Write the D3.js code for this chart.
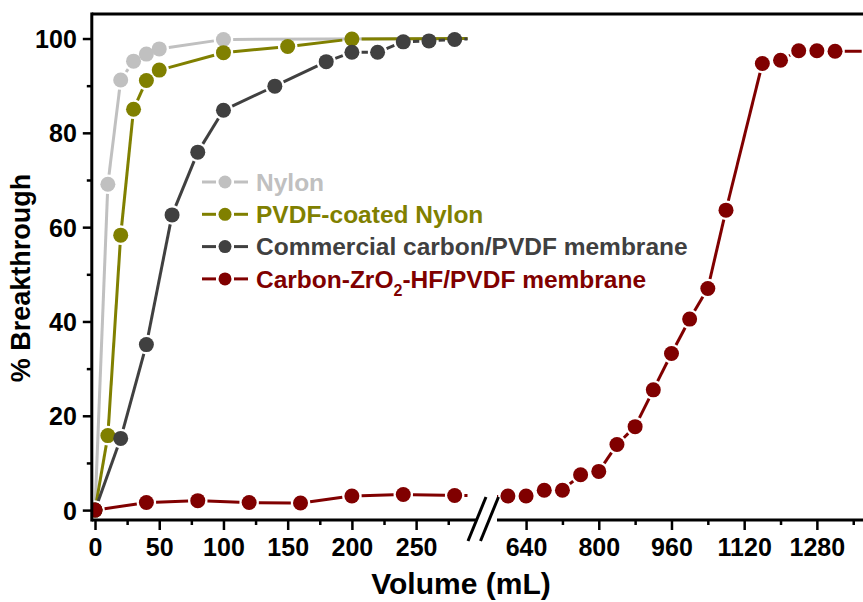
<!DOCTYPE html>
<html>
<head>
<meta charset="utf-8">
<script src="https://cdn.jsdelivr.net/npm/d3@7"></script>
<style>
  body { margin: 0; background: #fff; }
  svg text { font-family: "Liberation Sans", Arial, sans-serif; font-weight: bold; }
</style>
</head>
<body>
<div id="chart"></div>
<script>
// Data (volume in mL, breakthrough in %)
const nylonVol = [0, 10, 20, 30, 40, 50, 100, 300];
const nylonVal = [0, 69.1, 91.2, 95.2, 96.7, 97.8, 99.8, 100];

const pvdfVol = [0, 10, 20, 30, 40, 50, 100, 150, 200, 300];
const pvdfVal = [0, 15.8, 58.3, 85.0, 91.1, 93.3, 97.0, 98.3, 99.9, 100];

const commVol = [0, 20, 40, 60, 80, 100, 140, 180, 200, 220, 240, 260, 280, 300];
const commVal = [0, 15.2, 35.1, 62.6, 75.9, 84.8, 89.9, 95.1, 97.1, 97.1, 99.3, 99.5, 99.8, 100];

const zrVol = [0, 40, 80, 120, 160, 200, 240, 280, 600, 640, 680, 720, 760, 800, 840, 880,
               920, 960, 1000, 1040, 1080, 1160, 1200, 1240, 1280, 1320, 1400];
const zrVal = [0, 1.6, 2.0, 1.6, 1.5, 3.0, 3.3, 3.1, 3.0, 3.0, 4.2, 4.2, 7.5, 8.2, 13.9, 17.7,
               25.5, 33.2, 40.5, 47.0, 63.6, 94.7, 95.4, 97.4, 97.4, 97.3, 97.3];

const seriesNames = ["Nylon", "PVDF-coated Nylon", "Commercial carbon/PVDF membrane", "Carbon-ZrO2-HF/PVDF membrane"];
const seriesColors = ["#c0c0c0", "#808000", "#404040", "#800000"];

const yTicks = [0, 20, 40, 60, 80, 100];
const yMinor = [10, 30, 50, 70, 90];
const xLeftTicks = [0, 50, 100, 150, 200, 250];
const xLeftMinor = [25, 75, 125, 175, 225, 275];
const xRightTicks = [640, 800, 960, 1120, 1280];
const xRightMinor = [720, 880, 1040, 1200, 1360];

const W = 863, H = 602;
const svg = d3.select("#chart").append("svg").attr("width", W).attr("height", H);

// scales: one y, two x pieces for the broken axis
const y = d3.scaleLinear().domain([-2.1, 105.2]).range([520, 14]);
const xL = d3.scaleLinear().domain([-2.5, 290]).range([91.8, 467.5]);
const xR = d3.scaleLinear().domain([576, 1400]).range([497, 871.4]);

const series = [
  { vol: nylonVol, val: nylonVal },
  { vol: pvdfVol, val: pvdfVal },
  { vol: commVol, val: commVal },
  { vol: zrVol, val: zrVal }
].map((s, i) => ({
  name: seriesNames[i],
  color: seriesColors[i],
  pts: s.vol.map((v, j) => ({ x: v, y: s.val[j] }))
}));

const R = 7.5, GAP = R + 2.2;

// clip areas for the two axis pieces
const defs = svg.append("defs");
defs.append("clipPath").attr("id", "clipL").append("rect")
  .attr("x", xL.range()[0]).attr("y", 0).attr("width", xL.range()[1] - xL.range()[0]).attr("height", y.range()[0]);
defs.append("clipPath").attr("id", "clipR").append("rect")
  .attr("x", xR.range()[0]).attr("y", 0).attr("width", W - xR.range()[0]).attr("height", y.range()[0]);

// lines drawn as segments that stop short of the symbols
function drawPanel(x, clipId) {
  const g = svg.append("g").attr("clip-path", `url(#${clipId})`);
  series.forEach(s => {
    const segs = [];
    for (let i = 0; i < s.pts.length - 1; i++) {
      const x1 = x(s.pts[i].x), y1 = y(s.pts[i].y);
      const x2 = x(s.pts[i + 1].x), y2 = y(s.pts[i + 1].y);
      const len = Math.hypot(x2 - x1, y2 - y1);
      if (len <= 2 * GAP) continue;
      const ux = (x2 - x1) / len, uy = (y2 - y1) / len;
      segs.push([x1 + ux * GAP, y1 + uy * GAP, x2 - ux * GAP, y2 - uy * GAP]);
    }
    g.append("g").selectAll("line").data(segs).enter().append("line")
      .attr("x1", d => d[0]).attr("y1", d => d[1])
      .attr("x2", d => d[2]).attr("y2", d => d[3])
      .attr("stroke", s.color).attr("stroke-width", 3);
    g.append("g").selectAll("circle")
      .data(s.pts.filter(p => p.x >= x.domain()[0] && p.x <= x.domain()[1]))
      .enter().append("circle")
      .attr("cx", d => x(d.x)).attr("cy", d => y(d.y))
      .attr("r", R).attr("fill", s.color);
  });
}
drawPanel(xL, "clipL");
drawPanel(xR, "clipR");

// axes
function styleAxis(g) {
  g.selectAll(".domain").remove();
  g.selectAll(".tick line").attr("stroke", "#000").attr("stroke-width", 2.5);
  g.selectAll(".tick text").attr("font-size", 25).attr("fill", "#000");
}
const fmt = d3.format("d");

const yAxis = svg.append("g").attr("transform", `translate(${xL.range()[0]},0)`)
  .call(d3.axisLeft(y).tickValues(yTicks).tickFormat(fmt).tickSize(9).tickPadding(6));
styleAxis(yAxis);
yAxis.selectAll(".tick text").attr("dy", "0.36em");
svg.append("g").attr("transform", `translate(${xL.range()[0]},0)`)
  .call(d3.axisLeft(y).tickValues(yMinor).tickSize(5).tickFormat(""))
  .call(styleAxis);

const xAxisL = svg.append("g").attr("transform", `translate(0,${y.range()[0]})`)
  .call(d3.axisBottom(xL).tickValues(xLeftTicks).tickFormat(fmt).tickSize(10).tickPadding(8));
styleAxis(xAxisL);
svg.append("g").attr("transform", `translate(0,${y.range()[0]})`)
  .call(d3.axisBottom(xL).tickValues(xLeftMinor).tickSize(5).tickFormat(""))
  .call(styleAxis);

const xAxisR = svg.append("g").attr("transform", `translate(0,${y.range()[0]})`)
  .call(d3.axisBottom(xR).tickValues(xRightTicks).tickFormat(fmt).tickSize(10).tickPadding(8));
styleAxis(xAxisR);
svg.append("g").attr("transform", `translate(0,${y.range()[0]})`)
  .call(d3.axisBottom(xR).tickValues(xRightMinor).tickSize(5).tickFormat(""))
  .call(styleAxis);

// frame lines
const yb = y.range()[0], yt = y.range()[1];
const frame = svg.append("g").attr("stroke", "#000").attr("stroke-width", 3).attr("fill", "none");
frame.append("line").attr("x1", xL.range()[0]).attr("x2", xL.range()[0]).attr("y1", yt - 1.5).attr("y2", yb + 1.5);
frame.append("line").attr("x1", xL.range()[0]).attr("x2", W).attr("y1", yt).attr("y2", yt);
frame.append("line").attr("x1", xL.range()[0]).attr("x2", xL.range()[1] + 9).attr("y1", yb).attr("y2", yb);
frame.append("line").attr("x1", xR.range()[0]).attr("x2", W).attr("y1", yb).attr("y2", yb);

// break marks
const bx = xL.range()[1];
[0, 12.5].forEach(off => {
  frame.append("line")
    .attr("x1", bx + off + 0.5).attr("y1", yb + 21)
    .attr("x2", bx + off + 18.5).attr("y2", yb - 23);
});

// axis titles
svg.append("text")
  .attr("transform", "translate(30,278) rotate(-90)")
  .attr("text-anchor", "middle").attr("font-size", 27).attr("fill", "#000")
  .text("% Breakthrough");
svg.append("text")
  .attr("x", 461).attr("y", 594)
  .attr("text-anchor", "middle").attr("font-size", 30).attr("fill", "#000")
  .text("Volume (mL)");

// legend
const legend = svg.append("g").attr("transform", "translate(202,182)");
series.forEach((s, i) => {
  const row = legend.append("g").attr("transform", `translate(0,${i * 32.3})`);
  row.append("line").attr("x1", 0).attr("x2", 14).attr("y1", 0).attr("y2", 0)
    .attr("stroke", s.color).attr("stroke-width", 3);
  row.append("line").attr("x1", 32).attr("x2", 46).attr("y1", 0).attr("y2", 0)
    .attr("stroke", s.color).attr("stroke-width", 3);
  row.append("circle").attr("cx", 23).attr("cy", 0).attr("r", 6.5).attr("fill", s.color);
  const t = row.append("text").attr("x", 54).attr("y", 0).attr("dy", "0.36em")
    .attr("font-size", 24.5).attr("fill", s.color);
  if (s.name.includes("ZrO2")) {
    const parts = s.name.split("ZrO2");
    t.append("tspan").text(parts[0] + "ZrO");
    t.append("tspan").attr("font-size", 16).attr("dy", 8).text("2");
    t.append("tspan").attr("dy", -8).text(parts[1]);
  } else {
    t.text(s.name);
  }
});
</script>
</body>
</html>
